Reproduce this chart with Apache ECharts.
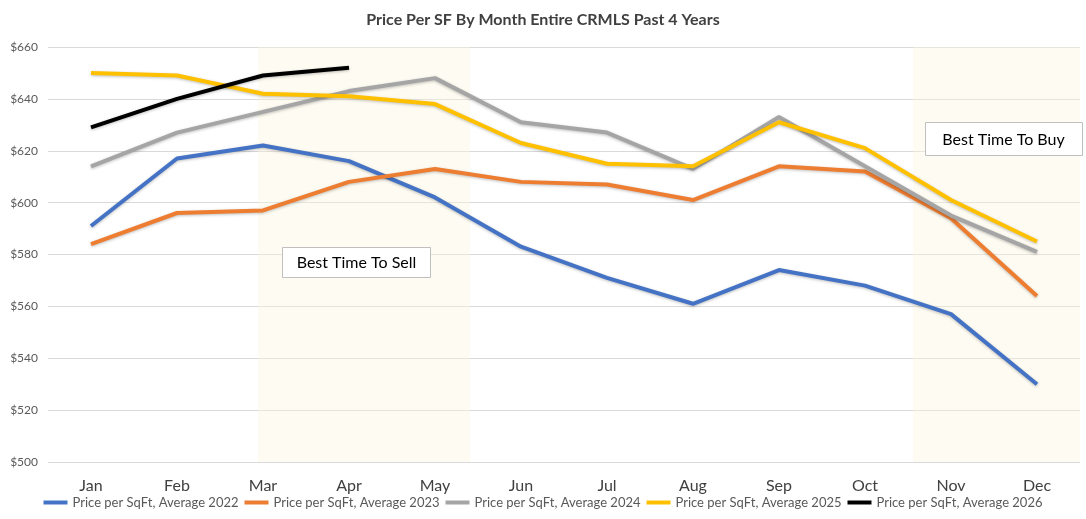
<!DOCTYPE html>
<html><head><meta charset="utf-8">
<script src="https://cdn.jsdelivr.net/npm/echarts@6/dist/echarts.min.js"></script>
<style>html,body{margin:0;padding:0;background:#fff}#c{width:1086px;height:519px}</style>
</head><body><div id="c"></div>
<script>
const months = ['Jan','Feb','Mar','Apr','May','Jun','Jul','Aug','Sep','Oct','Nov','Dec'];
const yTicks = [500,520,540,560,580,600,620,640,660];
const s2022 = [591,617,622,616,602,583,571,561,574,568,557,530];
const s2023 = [584,596,597,608,613,608,607,601,614,612,594,564];
const s2024 = [614,627,635,643,648,631,627,613,633,614,595,581];
const s2025 = [650,649,642,641,638,623,615,614,631,621,601,585];
const s2026 = [629,640,649,652];
const names = ['Price per SqFt, Average 2022','Price per SqFt, Average 2023','Price per SqFt, Average 2024','Price per SqFt, Average 2025','Price per SqFt, Average 2026'];
const colors = ['#4472C4','#ED7D31','#A5A5A5','#FFC000','#000000'];
const shadeSell = [2.44, 4.91];
const shadeBuy = [10.06, 12];
const font = 'Lato, "Liberation Sans", sans-serif';
const chart = echarts.init(document.getElementById('c'));
const data = [s2022,s2023,s2024,s2025,s2026];
chart.setOption({
  animation:false,
  title:{text:'Price Per SF By Month Entire CRMLS Past 4 Years',left:'center',top:7,textStyle:{fontFamily:font,fontSize:16,fontWeight:'bold',color:'#404040'}},
  legend:{bottom:5,left:'center',itemWidth:24,itemHeight:4,itemGap:6,icon:'rect',textStyle:{fontFamily:font,fontSize:13,color:'#595959'},data:names},
  grid:{left:48,right:6,top:47,bottom:57},
  xAxis:[{type:'category',data:months,boundaryGap:true,axisLine:{show:false},axisTick:{show:false},axisLabel:{fontFamily:font,fontSize:16,color:'#404040',margin:16}},
         {type:'value',min:0,max:12,show:false}],
  yAxis:{type:'value',min:500,max:660,interval:20,axisLine:{show:false},axisTick:{show:false},
    splitLine:{lineStyle:{color:'#D9D9D9'}},
    axisLabel:{fontFamily:font,fontSize:12,color:'#595959',formatter:v=>'$'+v,margin:10}},
  series:data.map((d,i)=>({name:names[i],type:'line',data:d,symbol:'none',z:3+i,
      lineStyle:{width:4,color:colors[i],shadowColor:'rgba(0,0,0,0.25)',shadowBlur:3,shadowOffsetY:1},itemStyle:{color:colors[i]}}))
   .concat([{type:'line',xAxisIndex:1,data:[],silent:true,z:20,
      markArea:{silent:true,itemStyle:{color:'rgba(253,246,222,0.4)'},data:[[{xAxis:shadeSell[0]},{xAxis:shadeSell[1]}],[{xAxis:shadeBuy[0]},{xAxis:shadeBuy[1]}]]}}]),
  graphic:[
    {type:'group',left:282,top:247,z:100,children:[
      {type:'rect',z:100,shape:{x:0,y:0,width:148,height:30},style:{fill:'#fff',stroke:'#BFBFBF',lineWidth:1}},
      {type:'text',z:101,style:{x:74,y:15,text:'Best Time To Sell',align:'center',verticalAlign:'middle',font:'16px '+font,fill:'#000'}}]},
    {type:'group',left:925,top:122,z:100,children:[
      {type:'rect',z:100,shape:{x:0,y:0,width:157,height:33},style:{fill:'#fff',stroke:'#BFBFBF',lineWidth:1}},
      {type:'text',z:101,style:{x:78,y:17,text:'Best Time To Buy',align:'center',verticalAlign:'middle',font:'16px '+font,fill:'#000'}}]}
  ]
});
</script></body></html>
